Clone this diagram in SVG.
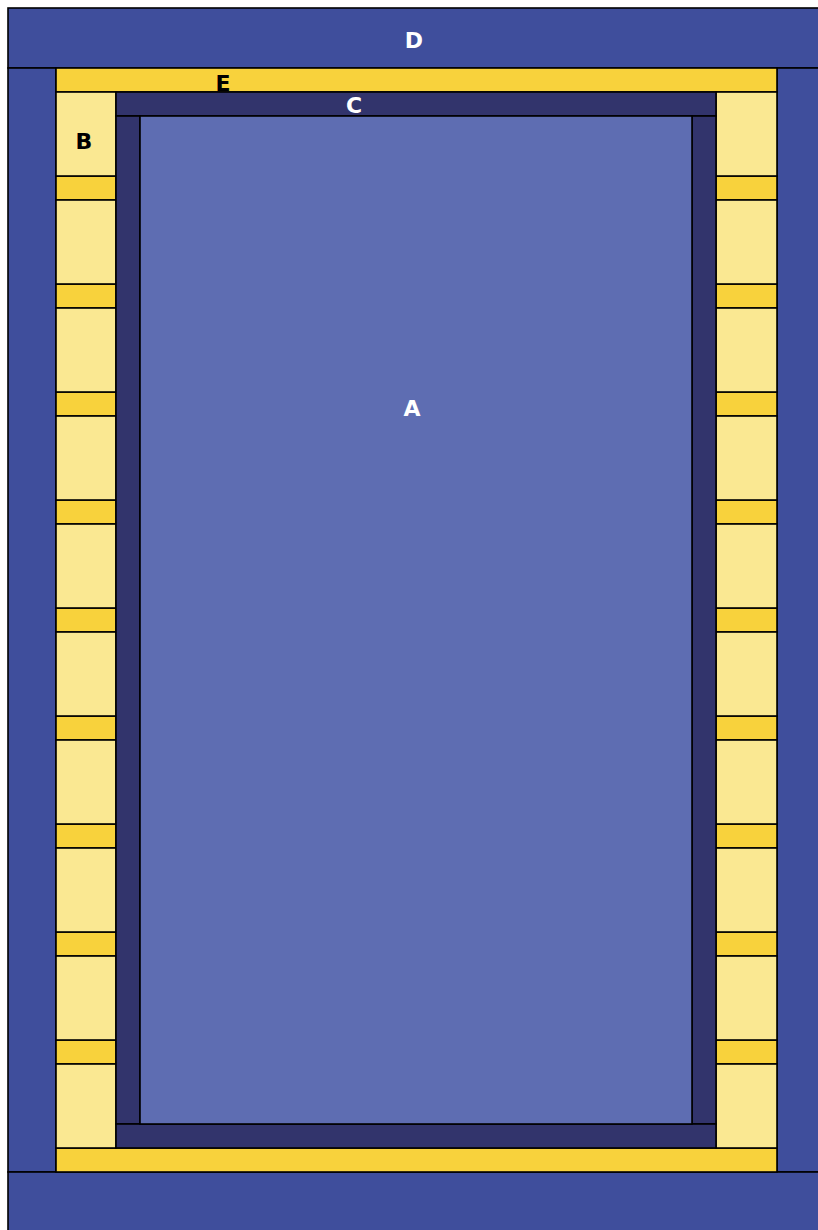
<svg xmlns="http://www.w3.org/2000/svg" width="818" height="1230" viewBox="0 0 818 1230">
<style>
rect{stroke:#000;stroke-width:1.6}
.d{fill:#3f4e9c}
.e{fill:#f8d23c}
.b{fill:#fae892}
.c{fill:#32346c}
.a{fill:#5e6db2}
text{font-family:"DejaVu Sans","Liberation Sans",sans-serif;font-weight:bold;font-size:22px;text-anchor:middle}
.w{fill:#fff}
.k{fill:#000}
</style>
<g id="D">
<rect class="d" x="8" y="8" width="820" height="60"/>
<rect class="d" x="8" y="68" width="48" height="1104"/>
<rect class="d" x="777" y="68" width="50" height="1104"/>
<rect class="d" x="8" y="1172" width="820" height="70"/>
<text class="w" x="414" y="48">D</text>
</g>
<g id="E">
<rect class="e" x="56" y="68" width="721" height="24"/>
<rect class="e" x="56" y="1148" width="721" height="24"/>
<rect class="e" x="56" y="176" width="60" height="24"/>
<rect class="e" x="56" y="284" width="60" height="24"/>
<rect class="e" x="56" y="392" width="60" height="24"/>
<rect class="e" x="56" y="500" width="60" height="24"/>
<rect class="e" x="56" y="608" width="60" height="24"/>
<rect class="e" x="56" y="716" width="60" height="24"/>
<rect class="e" x="56" y="824" width="60" height="24"/>
<rect class="e" x="56" y="932" width="60" height="24"/>
<rect class="e" x="56" y="1040" width="60" height="24"/>
<rect class="e" x="716" y="176" width="61" height="24"/>
<rect class="e" x="716" y="284" width="61" height="24"/>
<rect class="e" x="716" y="392" width="61" height="24"/>
<rect class="e" x="716" y="500" width="61" height="24"/>
<rect class="e" x="716" y="608" width="61" height="24"/>
<rect class="e" x="716" y="716" width="61" height="24"/>
<rect class="e" x="716" y="824" width="61" height="24"/>
<rect class="e" x="716" y="932" width="61" height="24"/>
<rect class="e" x="716" y="1040" width="61" height="24"/>
<text class="k" x="223" y="91">E</text>
</g>
<g id="B">
<rect class="b" x="56" y="92" width="60" height="84"/>
<rect class="b" x="56" y="200" width="60" height="84"/>
<rect class="b" x="56" y="308" width="60" height="84"/>
<rect class="b" x="56" y="416" width="60" height="84"/>
<rect class="b" x="56" y="524" width="60" height="84"/>
<rect class="b" x="56" y="632" width="60" height="84"/>
<rect class="b" x="56" y="740" width="60" height="84"/>
<rect class="b" x="56" y="848" width="60" height="84"/>
<rect class="b" x="56" y="956" width="60" height="84"/>
<rect class="b" x="56" y="1064" width="60" height="84"/>
<rect class="b" x="716" y="92" width="61" height="84"/>
<rect class="b" x="716" y="200" width="61" height="84"/>
<rect class="b" x="716" y="308" width="61" height="84"/>
<rect class="b" x="716" y="416" width="61" height="84"/>
<rect class="b" x="716" y="524" width="61" height="84"/>
<rect class="b" x="716" y="632" width="61" height="84"/>
<rect class="b" x="716" y="740" width="61" height="84"/>
<rect class="b" x="716" y="848" width="61" height="84"/>
<rect class="b" x="716" y="956" width="61" height="84"/>
<rect class="b" x="716" y="1064" width="61" height="84"/>
<text class="k" x="84" y="149">B</text>
</g>
<g id="C">
<rect class="c" x="116" y="92" width="600" height="24"/>
<rect class="c" x="116" y="116" width="24" height="1008"/>
<rect class="c" x="692" y="116" width="24" height="1008"/>
<rect class="c" x="116" y="1124" width="600" height="24"/>
<text class="w" x="354" y="113">C</text>
</g>
<g id="A">
<rect class="a" x="140" y="116" width="552" height="1008"/>
<text class="w" x="412" y="416">A</text>
</g>
</svg>
